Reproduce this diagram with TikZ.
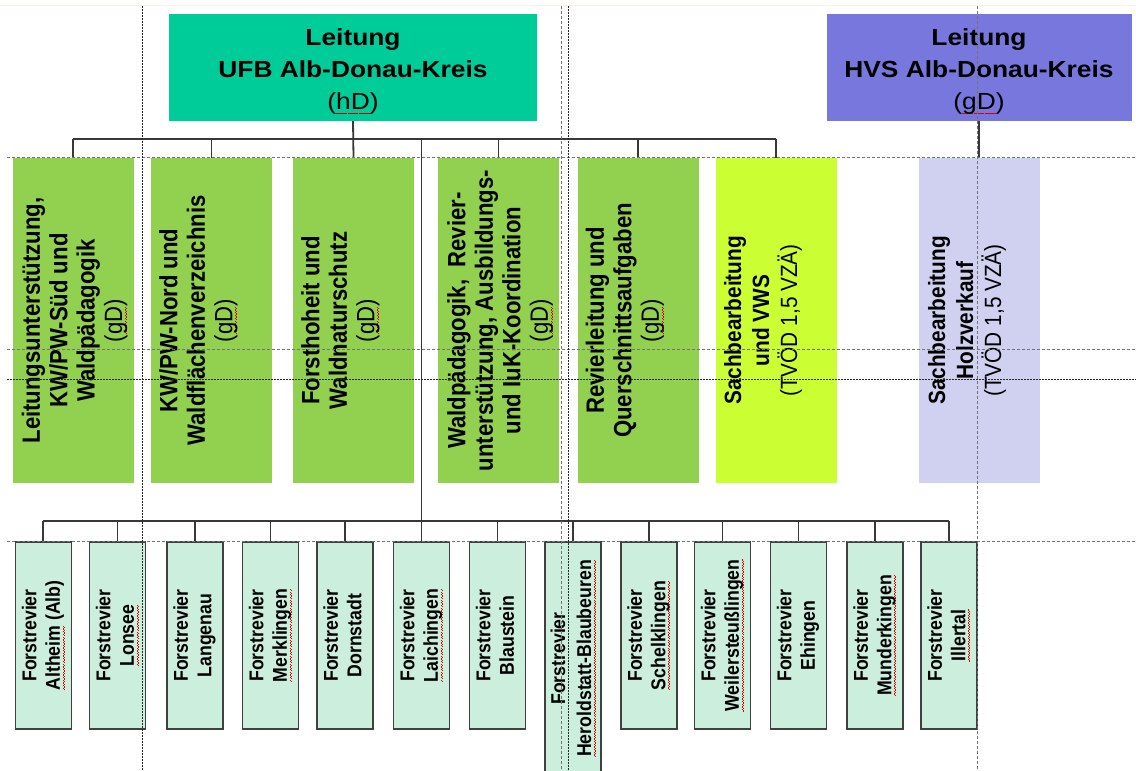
\documentclass[tikz,border=0pt]{standalone}
\usepackage{fontspec}
\setmainfont{Liberation Sans}
\newfontfamily\hfont[FakeStretch=1.13]{Liberation Sans}
\newfontfamily\vfont[FakeStretch=0.885]{Liberation Sans}
\definecolor{ufbc}{RGB}{0,204,153}
\definecolor{hvsc}{RGB}{119,119,221}
\definecolor{gc}{RGB}{146,208,80}
\definecolor{yc}{RGB}{204,255,51}
\definecolor{hkc}{RGB}{208,208,240}
\definecolor{revc}{RGB}{204,238,220}
\definecolor{topline}{RGB}{250,242,228}
\newcommand\sq[1]{\setbox0\hbox{#1}\leavevmode\rlap{\textcolor{red!85!black}{\hbox to\wd0{\xleaders\hbox{\rule[-4.6pt]{1.3pt}{0.7pt}\rule[-3.7pt]{1.3pt}{0.7pt}}\hfill}}}\box0\relax}
\newcommand\vl[1]{\rotatebox{90}{\begin{tabular}{@{}c@{}}#1\end{tabular}}}
\begin{document}
\begin{tikzpicture}[x=1pt,y=-1pt,
  conn/.style={draw=black!78,line width=1.8pt},
  topbox/.style={inner sep=0pt,minimum height=107pt},
  toptext/.style={inner sep=0pt,align=center,font={\hfont\fontsize{23.3}{32}\selectfont}},
  gbox/.style={inner sep=0pt,minimum width=121pt,minimum height=325pt},
  gtext/.style={inner sep=0pt,anchor=west,font={\vfont\fontsize{25}{27.5}\selectfont}},
  gtextsmall/.style={inner sep=0pt,anchor=west,font={\vfont\fontsize{23.5}{28}\selectfont}},
  rbox/.style={draw=black!75,line width=1.5pt,fill=revc,inner sep=0pt,minimum width=56pt,minimum height=187pt,font={\vfont\bfseries\fontsize{20}{23.5}\selectfont}},
  guideA/.style={draw=black!55,line width=0.8pt,dash pattern=on 3pt off 2pt},
  guideB/.style={draw=black!85,line width=0.8pt,dash pattern=on 1.5pt off 1.5pt}]
\fill[white] (0,0) rectangle (1136,771);
\useasboundingbox (0,0) rectangle (1136,771);
\draw[topline,line width=1pt] (0,5) -- (1136,5);
% top boxes
\node[topbox,fill=ufbc,minimum width=368pt] (ufb) at (353,67.5) {};
\node[toptext] (ufbt) at ([yshift=-4pt]ufb.center) {\textbf{Leitung}\\\textbf{UFB Alb-Donau-Kreis}\\(\sq{hD})};
\node[topbox,fill=hvsc,minimum width=305pt] (hvs) at (979,67.5) {};
\node[toptext] (hvst) at ([yshift=-4pt]hvs.center) {\textbf{Leitung}\\\textbf{HVS Alb-Donau-Kreis}\\(\sq{gD})};
% second level boxes
\node[gbox,fill=gc] (g1) at (73,320.5) {};
\node[gbox,fill=gc] (g2) at (211.5,320.5) {};
\node[gbox,fill=gc] (g3) at (353.5,320.5) {};
\node[gbox,fill=gc] (g4) at (498.5,320.5) {};
\node[gbox,fill=gc] (g5) at (638,320.5) {};
\node[gbox,fill=yc] (g6) at (776,320.5) {};
\node[gbox,fill=hkc] (hk) at (979,320.5) {};
\node[gtext] (g1t) at ([xshift=8pt]g1.west) {\vl{\textbf{Leitungsunterstützung,}\\\textbf{KW/PW-Süd und}\\\textbf{Waldpädagogik}\\(\sq{gD})}};
\node[gtext] (g2t) at ([xshift=7pt]g2.west) {\vl{\textbf{KW/PW-Nord und}\\\textbf{Waldflächenverzeichnis}\\(\sq{gD})}};
\node[gtext] (g3t) at ([xshift=7pt]g3.west) {\vl{\textbf{Forsthoheit und}\\\textbf{Waldnaturschutz}\\(\sq{gD})}};
\node[gtext] (g4t) at ([xshift=8pt]g4.west) {\vl{\textbf{Waldpädagogik,~~Revier-}\\\textbf{unterstützung, Ausbildungs-}\\\textbf{und IuK-Koordination}\\(\sq{gD})}};
\node[gtext] (g5t) at ([xshift=7pt]g5.west) {\vl{\textbf{Revierleitung und}\\\textbf{Querschnittsaufgaben}\\(\sq{gD})}};
\node[gtextsmall] (g6t) at ([xshift=6pt]g6.west) {\vl{\textbf{Sachbearbeitung}\\\textbf{und VWS}\\(TVÖD 1,5 VZÄ)}};
\node[gtextsmall] (hkt) at ([xshift=7pt]hk.west) {\vl{\textbf{Sachbearbeitung}\\\textbf{Holzverkauf}\\(TVÖD 1,5 VZÄ)}};
% third level boxes
\node[rbox] (r1) at (43.3,635.5) {\vl{Forstrevier\\\sq{Altheim} (Alb)}};
\node[rbox] (r2) at (117.5,635.5) {\vl{Forstrevier\\\sq{Lonsee}}};
\node[rbox] (r3) at (195,635.5) {\vl{Forstrevier\\Langenau}};
\node[rbox] (r4) at (270.5,635.5) {\vl{Forstrevier\\\sq{Merklingen}}};
\node[rbox] (r5) at (345,635.5) {\vl{Forstrevier\\Dornstadt}};
\node[rbox] (r6) at (421.5,635.5) {\vl{Forstrevier\\\sq{Laichingen}}};
\node[rbox] (r7) at (497.5,635.5) {\vl{Forstrevier\\Blaustein}};
\node[rbox,minimum height=233pt,font={\vfont\bfseries\fontsize{20}{26}\selectfont}] (r8) at (573,658.5) {\vl{Forstrevier\\\sq{Heroldstatt-Blaubeuren}}};
\node[rbox] (r9) at (649,635.5) {\vl{Forstrevier\\\sq{Schelklingen}}};
\node[rbox] (r10) at (722.5,635.5) {\vl{Forstrevier\\\sq{Weilersteußlingen}}};
\node[rbox] (r11) at (798.5,635.5) {\vl{Forstrevier\\Ehingen}};
\node[rbox] (r12) at (875,635.5) {\vl{Forstrevier\\\sq{Munderkingen}}};
\node[rbox] (r13) at (949,635.5) {\vl{Forstrevier\\\sq{Illertal}}};
% connectors
\coordinate (bus) at (0,139);
\coordinate (bbus) at (0,521);
\draw[conn] (ufb.south) -- (g3.north);
\foreach \n in {g1,g2,g4,g5,g6} \draw[conn] (\n.north) -- (\n.north |- bus);
\draw[conn] (g1.north |- bus) -- (g6.north |- bus);
\draw[conn] (r6.north |- bus) -- (r6.north);
\foreach \n in {r1,r2,r3,r4,r5,r7,r8,r9,r10,r11,r12,r13} \draw[conn] (\n.north) -- (\n.north |- bbus);
\draw[conn] (r1.north |- bbus) -- (r13.north |- bbus);
\draw[conn] (hvs.south) -- (hk.north);
% guide lines
\draw[guideA] (7,157) -- (1136,157);
\draw[guideA] (7,349) -- (1136,349);
\draw[guideB] (7,379) -- (1136,379);
\draw[guideA] (7,541) -- (1136,541);
\draw[guideB] (142,6) -- (142,771);
\draw[guideA] (561,6) -- (561,771);
\draw[guideB] (568,6) -- (568,771);
\draw[guideA] (977,6) -- (977,771);
\end{tikzpicture}
\end{document}
